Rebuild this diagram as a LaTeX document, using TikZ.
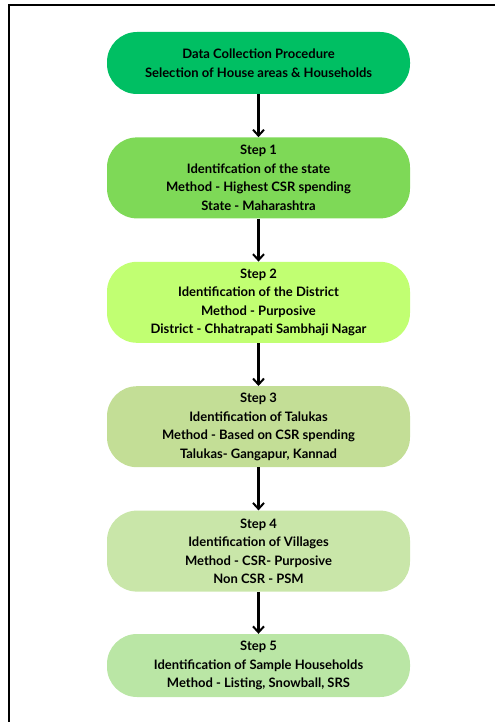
\documentclass[tikz,border=0pt]{standalone}
\usepackage{fontspec}
\setmainfont{Lato}
\usepackage{xcolor}
\usepackage{tikz}
\usetikzlibrary{positioning,arrows.meta}

\definecolor{introgreen}{HTML}{00BF63}
\definecolor{stepone}{HTML}{7ED957}
\definecolor{steptwo}{HTML}{C1FF72}
\definecolor{stepthree}{HTML}{C3DE96}
\definecolor{stepfour}{HTML}{C9E6A9}
\definecolor{stepfive}{HTML}{BAE6A5}

\begin{document}
\begin{tikzpicture}[
    x=1pt, y=1pt,
    node distance=43pt,
    every node/.style={rectangle, rounded corners=30pt, minimum width=303pt, minimum height=81pt,
        align=center, font=\fontsize{13}{18.5}\selectfont\bfseries, inner sep=2pt},
    flow/.style={-{Straight Barb[length=6pt,width=11pt,line width=2pt]}, line width=2.3pt}
]
    \useasboundingbox (0,0) rectangle (495,-722);
    % Frame
    \draw[line width=2.6pt] (9,-722) -- (9,-5) -- (495,-5);

    % Nodes
    \node[fill=introgreen, minimum height=62pt] (intro) at (258.5,-63) {Data Collection Procedure\\Selection of House areas \& Households};
    \node[fill=stepone, below=of intro] (step1) {Step 1\\Identifcation of the state\\Method - Highest CSR spending\\State - Maharashtra};
    \node[fill=steptwo, below=of step1] (step2) {Step 2\\Identification of the District\\Method - Purposive\\District - Chhatrapati Sambhaji Nagar};
    \node[fill=stepthree, below=of step2] (step3) {Step 3\\Identification of Talukas\\Method - Based on CSR spending\\Talukas- Gangapur, Kannad};
    \node[fill=stepfour, below=of step3] (step4) {Step 4\\Identification of Villages\\Method - CSR- Purposive\\Non CSR - PSM};
    \node[fill=stepfive, below=42pt of step4, minimum height=63pt] (step5) {Step 5\\Identification of Sample Households\\Method - Listing, Snowball, SRS};

    % Arrows
    \draw[flow] (intro) -- (step1);
    \draw[flow] (step1) -- (step2);
    \draw[flow] (step2) -- (step3);
    \draw[flow] (step3) -- (step4);
    \draw[flow] (step4) -- (step5);
\end{tikzpicture}
\end{document}
